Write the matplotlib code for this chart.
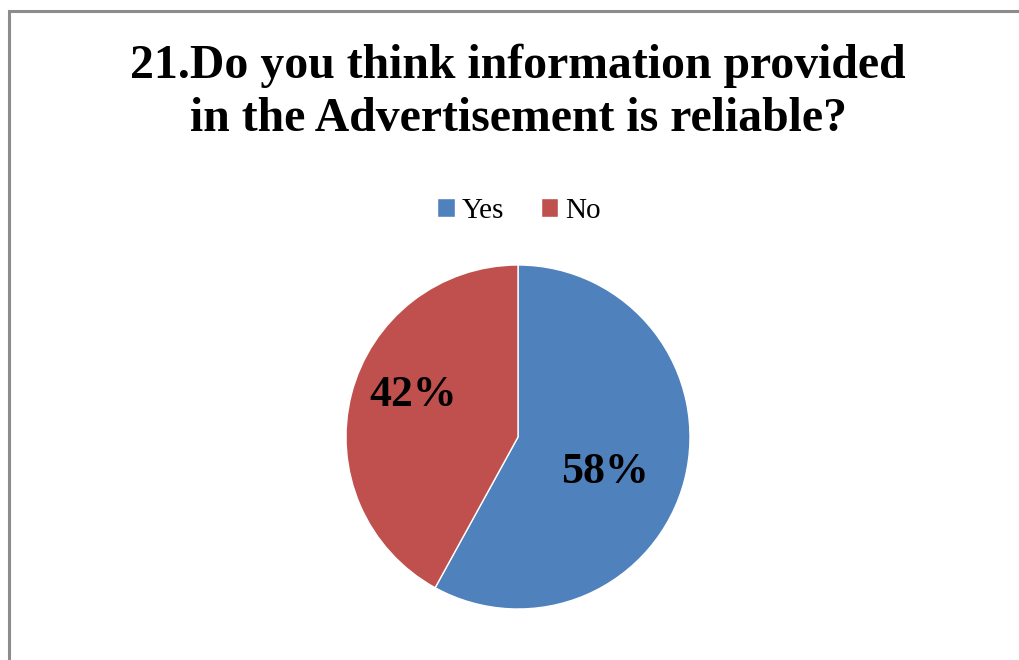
import matplotlib
matplotlib.use("Agg")
import matplotlib.pyplot as plt
from matplotlib.patches import Rectangle

# Survey answers for question 21
categories = ["Yes", "No"]
shares = [58, 42]
colors = ["#4F81BD", "#C0504D"]
title = "21.Do you think information provided\nin the Advertisement is reliable?"

serif = ["Liberation Serif", "DejaVu Serif"]

fig = plt.figure(figsize=(10.2, 6.6), dpi=100)
fig.patch.set_facecolor("white")

# chart frame, cut off on the right and bottom edges
fig.add_artist(Rectangle((9.5 / 1020, -0.1), 1.2, 1.1 - 11.5 / 660,
                         transform=fig.transFigure, fill=False,
                         edgecolor="#8c8c8c", linewidth=2.2))

# baseline anchor is the last line of the title
fig.text(0.508, 1 - 131 / 660, title, ha="center", va="baseline",
         family=serif, fontweight="bold", fontsize=34.4, linespacing=1.26)

ax = fig.add_axes([346 / 1020, 51 / 660, 344 / 1020, 344 / 660])
wedges, texts, autotexts = ax.pie(
    shares, colors=colors, startangle=90, counterclock=False,
    autopct="%d%%", pctdistance=0.58,
    wedgeprops=dict(edgecolor="white", linewidth=1),
)
ax.set_xlim(-1, 1)
ax.set_ylim(-1, 1)
ax.set_aspect("equal")

# nudge the percentage labels
offsets = [(-0.056, -0.058), (-0.045, 0.1)]
for t, (dx, dy) in zip(autotexts, offsets):
    x, y = t.get_position()
    t.set_position((x + dx, y + dy))
    t.set_fontsize(31.5)
    t.set_fontweight("bold")
    t.set_family(serif)
    t.set_color("black")

leg = fig.legend(wedges, categories, loc="center", bbox_to_anchor=(0.509, 1 - 211 / 660),
                 ncol=2, frameon=False, prop=dict(family=serif, size=21),
                 handlelength=0.6, handleheight=0.6, handletextpad=0.25,
                 columnspacing=1.25)

fig.savefig("out.png", dpi=100, facecolor="white")
